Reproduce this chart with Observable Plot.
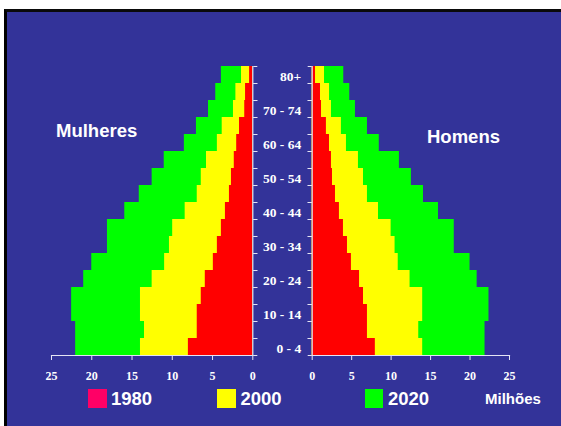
<!DOCTYPE html>
<html>
<head>
<meta charset="utf-8">
<script src="https://cdn.jsdelivr.net/npm/d3@7"></script>
<script src="https://cdn.jsdelivr.net/npm/@observablehq/plot@0.6"></script>
<style>
  html, body { margin: 0; padding: 0; background: #fff; }
  #wrap { position: relative; width: 561px; height: 426px; overflow: hidden; background: #fff; }
  #bg { position: absolute; left: 4px; top: 9px; right: -10px; bottom: -10px; background: #333399;
        border-left: 3px solid #000; border-top: 3px solid #0a0a0a; }
  .lbl { position: absolute; color: #fff; font-family: "Liberation Sans", Arial, sans-serif; font-weight: bold;
         line-height: 1; white-space: nowrap; }
  .sw { position: absolute; width: 18.7px; height: 18.7px; }
  svg.panel { position: absolute; top: 0; }
</style>
</head>
<body>
<div id="wrap">
  <div id="bg"></div>
</div>
<script>
// Age groups (bottom to top)
const ages = ["0 - 4","5 - 9","10 - 14","15 - 19","20 - 24","25 - 29","30 - 34","35 - 39","40 - 44",
              "45 - 49","50 - 54","55 - 59","60 - 64","65 - 69","70 - 74","75 - 79","80+"];
const ageLabels = ["0 - 4","10 - 14","20 - 24","30 - 34","40 - 44","50 - 54","60 - 64","70 - 74","80+"];
const xTicks = [0, 5, 10, 15, 20, 25];
const years = ["1980", "2000", "2020"];
const yearColors = ["#ff0000", "#ffff00", "#00ff00"];
const legendColors = ["#ff0066", "#ffff00", "#00ff00"];

// Mulheres (milhões), by age group
const f1980 = [8.0, 6.9, 6.9, 6.4, 5.9, 4.9, 4.4, 3.9, 3.4, 2.9, 2.65, 2.3, 2.0, 1.65, 1.0, 0.9, 0.4];
const f2000 = [13.95, 13.45, 13.95, 13.95, 12.5, 10.95, 10.35, 9.95, 8.4, 6.9, 6.4, 5.75, 4.4, 3.8, 2.4, 2.1, 1.4];
const f2020 = [22.0, 22.0, 22.5, 22.5, 21.0, 20.0, 18.05, 18.05, 15.9, 14.1, 12.5, 11.0, 8.5, 7.0, 5.5, 4.6, 3.9];
// Homens (milhões), by age group
const m1980 = [8.0, 7.0, 7.0, 6.5, 6.0, 4.97, 4.47, 3.96, 3.45, 2.95, 2.57, 2.44, 2.19, 1.8, 1.18, 1.05, 0.42];
const m2000 = [14.0, 13.5, 14.0, 14.0, 12.4, 10.9, 10.5, 10.0, 8.4, 7.0, 6.5, 5.86, 4.34, 3.7, 2.44, 2.2, 1.56];
const m2020 = [21.9, 21.9, 22.4, 22.4, 20.9, 20.0, 18.0, 18.0, 16.0, 14.1, 12.57, 11.05, 8.5, 7.0, 5.48, 4.76, 4.0];

const axisCol = "#e4e4f4";
const serif = "'Liberation Serif', 'Times New Roman', serif";

function rowsOf(series) {
  return ages.map((a, i) => ({age: a, v1980: series[0][i], v2000: series[1][i], v2020: series[2][i]}));
}

function panel(side) {
  const left = side === "left";
  const rows = rowsOf(left ? [f1980, f2000, f2020] : [m1980, m2000, m2020]);
  const marks = [
    Plot.barX(rows, {x: "v2020", y: "age", fill: yearColors[2]}),
    Plot.barX(rows, {x: "v2000", y: "age", fill: yearColors[1]}),
    Plot.barX(rows, {x: "v1980", y: "age", fill: yearColors[0]}),
    Plot.frame({anchor: "bottom", stroke: axisCol, strokeWidth: 1.2}),
    Plot.frame({anchor: left ? "right" : "left", stroke: axisCol, strokeWidth: 1.2}),
    Plot.axisX({ticks: xTicks, tickSize: 5, tickPadding: 11, stroke: axisCol, fill: "#fff",
                fontFamily: serif, fontWeight: "bold", fontSize: 12, label: null}),
    Plot.axisY({anchor: left ? "right" : "left", tickSize: 4, tickFormat: () => "", dy: 8.5, stroke: axisCol, label: null}),
    Plot.axisY({anchor: left ? "right" : "left", tickSize: 4, tickFormat: () => "", dy: -8.5, stroke: axisCol, label: null})
  ];
  if (!left) {
    marks.push(Plot.text(ageLabels, {y: d => d, text: d => d, frameAnchor: "left", dx: -11, dy: 1.5,
                                     textAnchor: "end", fill: "#fff", fontFamily: serif,
                                     fontWeight: "bold", fontSize: 13.5}));
  }
  const svg = Plot.plot({
    width: left ? 280 : 281,
    height: 426,
    marginTop: 66,
    marginBottom: 71,
    marginLeft: left ? 51 : 31.7,
    marginRight: left ? 27.7 : 52,
    style: {background: "transparent", overflow: "visible"},
    x: {domain: [0, 25], reverse: left},
    y: {domain: ages.slice().reverse(), padding: 0, axis: null},
    marks
  });
  svg.classList.add("panel");
  svg.style.left = left ? "0px" : "280px";
  return svg;
}

const wrap = document.getElementById("wrap");
wrap.appendChild(panel("left"));
wrap.appendChild(panel("right"));

function addLabel(text, x, y, size) {
  const d = document.createElement("div");
  d.className = "lbl";
  d.textContent = text;
  d.style.left = x + "px";
  d.style.top = y + "px";
  d.style.fontSize = size + "px";
  wrap.appendChild(d);
}
addLabel("Mulheres", 56, 122, 18.5);
addLabel("Homens", 427, 127.7, 18.5);

const legendPos = [[88, 111], [217, 240.5], [364.7, 388]];
years.forEach((y, i) => {
  const s = document.createElement("div");
  s.className = "sw";
  s.style.left = legendPos[i][0] + "px";
  s.style.top = "389px";
  s.style.background = legendColors[i];
  wrap.appendChild(s);
  addLabel(y, legendPos[i][1], 390, 18.5);
});
addLabel("Milhões", 485, 390.7, 15);
</script>
</body>
</html>
